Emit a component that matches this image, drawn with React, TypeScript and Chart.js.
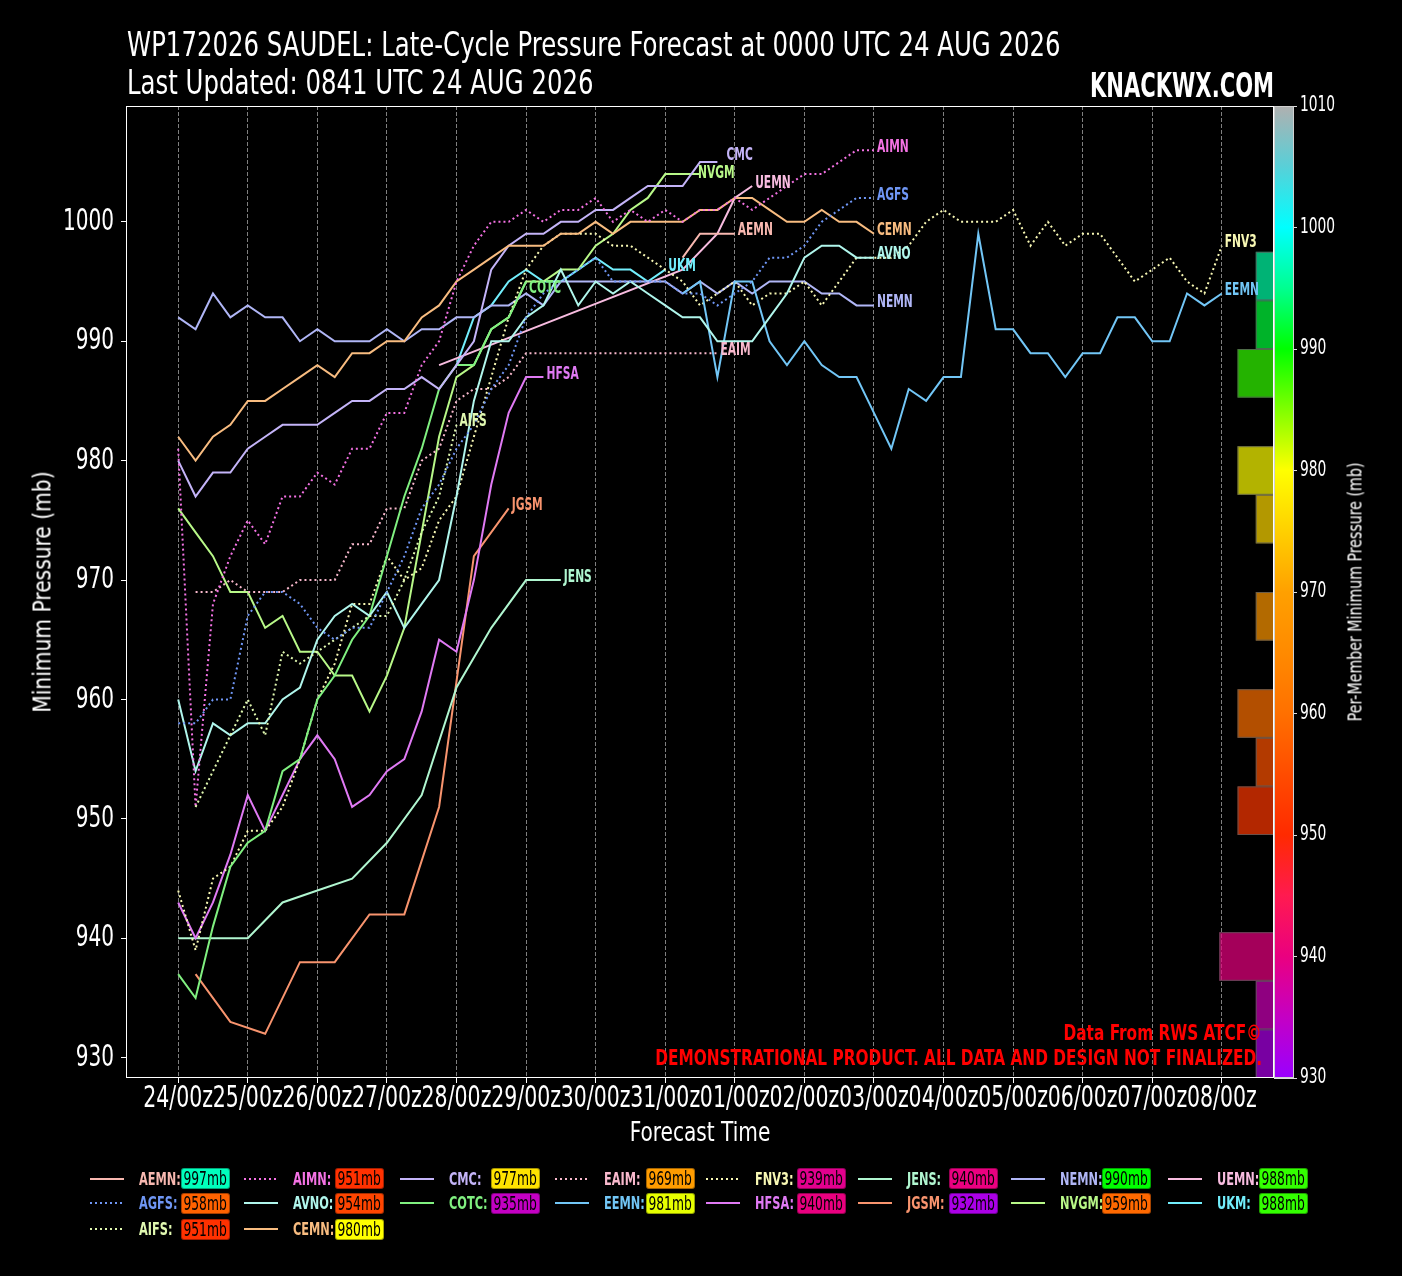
import React, { useEffect, useRef } from 'react';
import { Chart, registerables } from 'chart.js';

Chart.register(...registerables);

const FONT = "'Liberation Sans Narrow','DejaVu Sans Condensed','Noto Sans',sans-serif";

function sixHourly(start: number, end: number): number[] {
  const out: number[] = [];
  for (let h = start; h <= end; h += 6) out.push(h);
  return out;
}

// ---------------- data (forecast hour since 24/00z, minimum pressure mb) ----------------
const AEMN_H = [174, 180, 186, 192];
const AEMN_P = [997, 999, 999, 999];
const AGFS_H = sixHourly(0, 240);
const AGFS_P = [958, 958, 960, 960, 967, 969, 969, 968, 966, 965, 966, 966, 969, 972, 976, 978, 981,
  983, 986, 988, 992, 994, 995, 996, 997, 995, 995, 995, 995, 994, 994, 993, 994, 995,
  997, 997, 998, 1000, 1001, 1002, 1002];
const AIFS_H = sixHourly(6, 96);
const AIFS_P = [951, 954, 957, 960, 957, 964, 963, 964, 965, 966, 967, 967, 970, 974, 977, 983];
const AIMN_H = sixHourly(0, 240);
const AIMN_P = [981, 951, 968, 972, 975, 973, 977, 977, 979, 978, 981, 981, 984, 984, 988, 990, 995,
  998, 1000, 1000, 1001, 1000, 1001, 1001, 1002, 1000, 1001, 1000, 1001, 1000, 1001, 1001, 1002, 1001,
  1002, 1003, 1004, 1004, 1005, 1006, 1006];
const AVNO_H = sixHourly(0, 240);
const AVNO_P = [960, 954, 958, 957, 958, 958, 960, 961, 965, 967, 968, 967, 969, 966, 968, 970, 977,
  985, 990, 990, 992, 993, 996, 993, 995, 994, 995, 994, 993, 992, 992, 990, 990, 990,
  992, 994, 997, 998, 998, 997, 997];
const CEMN_H = sixHourly(0, 240);
const CEMN_P = [982, 980, 982, 983, 985, 985, 986, 987, 988, 987, 989, 989, 990, 990, 992, 993, 995,
  996, 997, 998, 998, 998, 999, 999, 1000, 999, 1000, 1000, 1000, 1000, 1001, 1001, 1002, 1002,
  1001, 1000, 1000, 1001, 1000, 1000, 999];
const CMC_H = sixHourly(0, 186);
const CMC_P = [980, 977, 979, 979, 981, 982, 983, 983, 983, 984, 985, 985, 986, 986, 987, 986, 988,
  990, 996, 998, 999, 999, 1000, 1000, 1001, 1001, 1002, 1003, 1003, 1003, 1005, 1005];
const COTC_H = sixHourly(0, 120);
const COTC_P = [937, 935, 941, 946, 948, 949, 954, 955, 960, 962, 965, 967, 972, 977, 981, 986, 988,
  988, 991, 992, 995];
const EAIM_H = sixHourly(6, 186);
const EAIM_P = [969, 969, 970, 969, 969, 969, 970, 970, 970, 973, 973, 976, 976, 980, 981, 985,
  986, 986, 987, 989, 989, 989, 989, 989, 989, 989, 989, 989, 989, 989, 989];
const EEMN_H = sixHourly(174, 360);
const EEMN_P = [994, 995, 987, 995, 995, 990, 988, 990, 988, 987, 987, 984, 981, 986, 985, 987,
  987, 999, 991, 991, 989, 989, 987, 989, 989, 992, 992, 990, 990, 994, 993, 994];
const FNV3_H = sixHourly(0, 360);
const FNV3_P = [944, 939, 945, 946, 949, 949, 951, 955, 960, 963, 968, 968, 972, 970, 971, 975, 977,
  982, 987, 992, 996, 998, 999, 999, 999, 998, 998, 997, 996, 995, 993, 994, 995, 993,
  994, 994, 995, 993, 995, 997, 997, 997, 998, 1000, 1001, 1000, 1000, 1000, 1001, 998, 1000,
  998, 999, 999, 997, 995, 996, 997, 995, 994, 998];
const HFSA_H = sixHourly(0, 126);
const HFSA_P = [943, 940, 943, 947, 952, 949, 952, 955, 957, 955, 951, 952, 954, 955, 959, 965, 964,
  970, 978, 984, 987, 987];
const JENS_H = [0, 12, 24, 36, 48, 60, 72, 84, 96, 108, 120, 132];
const JENS_P = [940, 940, 940, 943, 944, 945, 948, 952, 961, 966, 970, 970];
const JGSM_H = [6, 18, 30, 42, 54, 66, 78, 90, 102, 114];
const JGSM_P = [937, 933, 932, 938, 938, 942, 942, 951, 972, 976];
const NEMN_H = sixHourly(0, 240);
const NEMN_P = [992, 991, 994, 992, 993, 992, 992, 990, 991, 990, 990, 990, 991, 990, 991, 991, 992,
  992, 993, 993, 994, 993, 995, 995, 995, 995, 995, 995, 995, 994, 995, 994, 995, 994,
  995, 995, 995, 994, 994, 993, 993];
const NVGM_H = sixHourly(0, 180);
const NVGM_P = [976, 974, 972, 969, 969, 966, 967, 964, 964, 962, 962, 959, 962, 966, 974, 982, 987,
  988, 991, 992, 995, 995, 996, 996, 998, 999, 1001, 1002, 1004, 1004, 1004];
const UEMN_H = [90, 174, 186, 192, 198];
const UEMN_P = [988, 996, 999, 1002, 1003];
const UKM_H = sixHourly(96, 168);
const UKM_P = [988, 992, 993, 995, 996, 995, 995, 996, 997, 996, 996, 995, 996];

const X_TICK_HOURS = [0, 24, 48, 72, 96, 120, 144, 168, 192, 216, 240, 264, 288, 312, 336, 360];
const X_TICK_LABELS = ['24/00z', '25/00z', '26/00z', '27/00z', '28/00z', '29/00z', '30/00z', '31/00z',
  '01/00z', '02/00z', '03/00z', '04/00z', '05/00z', '06/00z', '07/00z', '08/00z'];
const Y_TICKS = [930, 940, 950, 960, 970, 980, 990, 1000];
const CB_TICKS = [930, 940, 950, 960, 970, 980, 990, 1000, 1010];

// colour map for per-member minimum pressure
const CMAP_P = [930, 935, 940, 945, 950, 955, 960, 965, 970, 975, 980, 985, 990, 995, 1000, 1005, 1010];
const CMAP_C = ['#9a00ff', '#c400c4', '#ea0080', '#ff1a50', '#ff2a00', '#ff4c00', '#ff7000', '#ff8a00',
  '#ffa000', '#ffd000', '#ffff00', '#80ff00', '#00ff00', '#00ff90', '#00ffff', '#58d0d8', '#b0b0b0'];
const HIST_START = 930;
const HIST_END = 1010;
const HIST_BIN = 4;

// ---------------- styles ----------------
const STYLE: Record<string, { color: string; dotted: boolean }> = {
  AEMN: { color: '#f8b8b0', dotted: false },
  AGFS: { color: '#6f96f4', dotted: true },
  AIFS: { color: '#e0f8b0', dotted: true },
  AIMN: { color: '#f472e4', dotted: true },
  AVNO: { color: '#b0f6ec', dotted: false },
  CEMN: { color: '#f8bc80', dotted: false },
  CMC: { color: '#c4b4f8', dotted: false },
  COTC: { color: '#80f080', dotted: false },
  EAIM: { color: '#f8b8cc', dotted: true },
  EEMN: { color: '#72c6f6', dotted: false },
  FNV3: { color: '#f8f8b4', dotted: true },
  HFSA: { color: '#e07af4', dotted: false },
  JENS: { color: '#b0f6d0', dotted: false },
  JGSM: { color: '#f8946e', dotted: false },
  NEMN: { color: '#b0b6f6', dotted: false },
  NVGM: { color: '#b8f888', dotted: false },
  UEMN: { color: '#f8bce0', dotted: false },
  UKM: { color: '#72eefc', dotted: false },
};
const LABEL_NUDGE: Record<string, [number, number]> = { CMC: [6, -4], NVGM: [-5, 2], COTC: [0, 10] };

const MODELS = [
  { name: 'AEMN', h: AEMN_H, p: AEMN_P },
  { name: 'AGFS', h: AGFS_H, p: AGFS_P },
  { name: 'AIFS', h: AIFS_H, p: AIFS_P },
  { name: 'AIMN', h: AIMN_H, p: AIMN_P },
  { name: 'AVNO', h: AVNO_H, p: AVNO_P },
  { name: 'CEMN', h: CEMN_H, p: CEMN_P },
  { name: 'CMC', h: CMC_H, p: CMC_P },
  { name: 'COTC', h: COTC_H, p: COTC_P },
  { name: 'EAIM', h: EAIM_H, p: EAIM_P },
  { name: 'EEMN', h: EEMN_H, p: EEMN_P },
  { name: 'FNV3', h: FNV3_H, p: FNV3_P },
  { name: 'HFSA', h: HFSA_H, p: HFSA_P },
  { name: 'JENS', h: JENS_H, p: JENS_P },
  { name: 'JGSM', h: JGSM_H, p: JGSM_P },
  { name: 'NEMN', h: NEMN_H, p: NEMN_P },
  { name: 'NVGM', h: NVGM_H, p: NVGM_P },
  { name: 'UEMN', h: UEMN_H, p: UEMN_P },
  { name: 'UKM', h: UKM_H, p: UKM_P },
];

function hexToRgb(h: string): number[] {
  const v = parseInt(h.slice(1), 16);
  return [(v >> 16) & 255, (v >> 8) & 255, v & 255];
}
function cmap(p: number, alpha = 1): string {
  let i = 0;
  while (i < CMAP_P.length - 2 && p > CMAP_P[i + 1]) i++;
  const t = Math.max(0, Math.min(1, (p - CMAP_P[i]) / (CMAP_P[i + 1] - CMAP_P[i])));
  const a = hexToRgb(CMAP_C[i]);
  const b = hexToRgb(CMAP_C[i + 1]);
  const c = a.map((v, k) => Math.round(v + (b[k] - v) * t));
  return `rgba(${c[0]},${c[1]},${c[2]},${alpha})`;
}

const MINIMA = MODELS.map((m) => Math.min(...m.p));
const HIST_COUNTS: number[] = [];
for (let lo = HIST_START; lo < HIST_END; lo += HIST_BIN) HIST_COUNTS.push(0);
MINIMA.forEach((v) => {
  const idx = Math.floor((v - HIST_START) / HIST_BIN);
  if (idx >= 0 && idx < HIST_COUNTS.length) HIST_COUNTS[idx] += 1;
});

// draws horizontally condensed canvas text (narrow display face look-alike)
function narrowText(ctx: any, text: string, x: number, y: number, font: string, color: string,
  sx: number, align: string) {
  ctx.save();
  ctx.translate(x, y);
  ctx.scale(sx, 1);
  ctx.font = font;
  ctx.fillStyle = color;
  ctx.textAlign = align;
  ctx.textBaseline = 'middle';
  ctx.fillText(text, 0, 0);
  ctx.restore();
}

const decorPlugin = {
  id: 'decor',
  afterDatasetsDraw(chart: any) {
    const { ctx, chartArea, scales } = chart;
    const { x, y, xh, yh } = scales;
    ctx.save();
    ctx.beginPath();
    ctx.rect(chartArea.left, chartArea.top, chartArea.right - chartArea.left, chartArea.bottom - chartArea.top);
    ctx.clip();
    HIST_COUNTS.forEach((c, i) => {
      if (!c) return;
      const lo = HIST_START + i * HIST_BIN;
      const top = yh.getPixelForValue(lo + HIST_BIN);
      const bot = yh.getPixelForValue(lo);
      const left = xh.getPixelForValue(c);
      const right = xh.getPixelForValue(0);
      ctx.fillStyle = cmap(lo + HIST_BIN / 2, 0.7);
      ctx.fillRect(left, top, right - left, bot - top);
      ctx.strokeStyle = 'rgba(90,90,90,0.8)';
      ctx.lineWidth = 1;
      ctx.strokeRect(left + 0.5, top + 0.5, right - left - 1, bot - top - 1);
    });
    ctx.restore();

    MODELS.forEach((m) => {
      const n = m.h.length - 1;
      const px = x.getPixelForValue(m.h[n]);
      const py = y.getPixelForValue(m.p[n]);
      const nd = LABEL_NUDGE[m.name] || [0, 0];
      narrowText(ctx, m.name, px + 3 + nd[0], py - 3 + nd[1], `bold 18px ${FONT}`, STYLE[m.name].color, 0.66, 'left');
    });

    ctx.save();
    ctx.strokeStyle = '#ffffff';
    ctx.lineWidth = 1;
    ctx.strokeRect(chartArea.left + 0.5, chartArea.top + 0.5, chartArea.right - chartArea.left - 1,
      chartArea.bottom - chartArea.top - 1);
    ctx.restore();
  },
  afterDraw(chart: any) {
    const { ctx, chartArea, scales } = chart;
    const { x, y, cb } = scales;
    const x0 = chartArea.right + 1;
    const w = 18;
    const yT = cb.getPixelForValue(HIST_END);
    const yB = cb.getPixelForValue(HIST_START);
    const g = ctx.createLinearGradient(0, yB, 0, yT);
    CMAP_P.forEach((p, i) => g.addColorStop((p - HIST_START) / (HIST_END - HIST_START), CMAP_C[i]));
    ctx.save();
    ctx.fillStyle = g;
    ctx.fillRect(x0, yT, w, yB - yT);
    ctx.strokeStyle = '#d0d0d0';
    ctx.lineWidth = 1;
    ctx.strokeRect(x0 - 0.5, yT + 0.5, w + 1, yB - yT - 1);
    ctx.restore();

    // tick labels, placed through the scales
    Y_TICKS.forEach((v) => {
      narrowText(ctx, String(v), chartArea.left - 12, y.getPixelForValue(v), `31px ${FONT}`, '#ffffff', 0.72, 'right');
    });
    X_TICK_HOURS.forEach((h, i) => {
      narrowText(ctx, X_TICK_LABELS[i], x.getPixelForValue(h), chartArea.bottom + 21, `30px ${FONT}`, '#ffffff', 0.76, 'center');
    });
    CB_TICKS.forEach((v) => {
      narrowText(ctx, String(v), x0 + w + 7, cb.getPixelForValue(v), `21px ${FONT}`, '#ffffff', 0.73, 'left');
    });
  },
};

export default function App() {
  const ref = useRef<HTMLCanvasElement | null>(null);

  useEffect(() => {
    const canvas = ref.current;
    if (!canvas) return;
    Chart.defaults.font.family = FONT;
    Chart.defaults.color = '#ffffff';
    const datasets = MODELS.map((m) => ({
      label: m.name,
      data: m.h.map((h, i) => ({ x: h, y: m.p[i] })),
      borderColor: STYLE[m.name].color,
      backgroundColor: STYLE[m.name].color,
      borderWidth: 2,
      borderDash: STYLE[m.name].dotted ? [2, 3] : [],
      pointRadius: 0,
      tension: 0,
      fill: false,
      xAxisID: 'x',
      yAxisID: 'y',
    }));
    const chart = new Chart(canvas, {
      type: 'line',
      data: { datasets },
      options: {
        responsive: false,
        animation: false,
        events: [],
        layout: { padding: { top: 106, bottom: 116, left: 0, right: 0 } },
        plugins: { legend: { display: false }, tooltip: { enabled: false }, title: { display: false } },
        scales: {
          x: {
            type: 'linear',
            min: -18,
            max: 378,
            afterBuildTicks: (s: any) => { s.ticks = X_TICK_HOURS.map((v) => ({ value: v })); },
            afterFit: (s: any) => { s.height = 82; },
            ticks: { display: false, autoSkip: false, maxRotation: 0 },
            grid: { color: 'rgba(170,170,170,0.75)', lineWidth: 1, tickLength: 5, tickColor: '#ffffff', drawTicks: true },
            border: { display: false, dash: [4, 2] },
          },
          y: {
            type: 'linear',
            position: 'left',
            min: 928.3,
            max: 1009.7,
            afterBuildTicks: (s: any) => { s.ticks = Y_TICKS.map((v) => ({ value: v })); },
            afterFit: (s: any) => { s.width = 126; },
            ticks: { display: false },
            grid: { drawOnChartArea: false, tickLength: 5, tickColor: '#ffffff' },
            border: { display: false },
          },
          cb: {
            type: 'linear',
            axis: 'y',
            position: 'right',
            min: HIST_START,
            max: HIST_END,
            afterBuildTicks: (s: any) => { s.ticks = CB_TICKS.map((v) => ({ value: v })); },
            afterFit: (s: any) => { s.width = 128; },
            ticks: { display: false },
            grid: { drawOnChartArea: false, tickLength: 23, tickColor: '#dddddd' },
            border: { display: false },
          },
          yh: { type: 'linear', display: false, min: HIST_START, max: HIST_END },
          xh: { type: 'linear', display: false, min: 0, max: 63, reverse: true },
        },
      } as any,
      plugins: [decorPlugin],
    });
    return () => chart.destroy();
  }, []);

  const LEGEND_COLS = [90, 244, 400, 555, 706, 858, 1011, 1168];
  const LEGEND_ROWS = [1178.5, 1203.3, 1229];
  const ncol = LEGEND_COLS.length;
  const base = Math.floor(MODELS.length / ncol);
  const extra = MODELS.length % ncol;
  const placed: { m: typeof MODELS[number]; col: number; row: number; k: number }[] = [];
  let k = 0;
  for (let c = 0; c < ncol; c++) {
    const size = base + (c < extra ? 1 : 0);
    for (let r = 0; r < size; r++) {
      placed.push({ m: MODELS[k], col: c, row: r, k });
      k++;
    }
  }

  const abs: React.CSSProperties = { position: 'absolute', whiteSpace: 'nowrap', lineHeight: 1 };
  const leftText = (sx: number): React.CSSProperties => ({ transform: `translateY(-50%) scaleX(${sx})`, transformOrigin: 'left center' });
  const rightText = (sx: number): React.CSSProperties => ({ transform: `translateY(-50%) scaleX(${sx})`, transformOrigin: 'right center' });

  return (
    <div style={{ position: 'absolute', left: 0, top: 0, width: 1402, height: 1276, background: '#000', overflow: 'hidden', fontFamily: FONT }}>
      <canvas ref={ref} width={1402} height={1276} style={{ position: 'absolute', left: 0, top: 0, display: 'block' }} />
      <div style={{ ...abs, ...leftText(0.81), left: 127, top: 44.5, color: '#fff', fontSize: 33.5 }}>
        WP172026 SAUDEL: Late-Cycle Pressure Forecast at 0000 UTC 24 AUG 2026
      </div>
      <div style={{ ...abs, ...leftText(0.81), left: 127, top: 82.5, color: '#fff', fontSize: 33.5 }}>
        Last Updated: 0841 UTC 24 AUG 2026
      </div>
      <div style={{ ...abs, ...rightText(0.7), right: 128, top: 86, color: '#fff', fontSize: 33.5, fontWeight: 'bold' }}>
        KNACKWX.COM
      </div>
      <div style={{ ...abs, ...rightText(0.775), right: 140, top: 1033, color: '#ff0000', fontSize: 22, fontWeight: 'bold' }}>
        Data From RWS ATCF©
      </div>
      <div style={{ ...abs, ...rightText(0.775), right: 140, top: 1058, color: '#ff0000', fontSize: 22, fontWeight: 'bold' }}>
        DEMONSTRATIONAL PRODUCT. ALL DATA AND DESIGN NOT FINALIZED.
      </div>
      <div style={{ ...abs, left: 42, top: 592, transform: 'translate(-50%,-50%) rotate(-90deg) scaleX(0.9)', color: '#fff', fontSize: 25 }}>
        Minimum Pressure (mb)
      </div>
      <div style={{ ...abs, left: 700, top: 1132, transform: 'translate(-50%,-50%) scaleX(0.86)', color: '#fff', fontSize: 26 }}>
        Forecast Time
      </div>
      <div style={{ ...abs, left: 1355, top: 592, transform: 'translate(-50%,-50%) rotate(-90deg) scaleX(0.83)', color: '#fff', fontSize: 19 }}>
        Per-Member Minimum Pressure (mb)
      </div>
      {placed.map(({ m, col, row, k: idx }) => {
        const cx = LEGEND_COLS[col];
        const cy = LEGEND_ROWS[row];
        const st = STYLE[m.name];
        const mn = MINIMA[idx];
        return (
          <React.Fragment key={m.name}>
            <div style={{ position: 'absolute', left: cx, top: cy - 1, width: 34, height: 2,
              background: st.dotted ? `repeating-linear-gradient(to right, ${st.color} 0px, ${st.color} 2px, transparent 2px, transparent 5px)` : st.color }} />
            <div style={{ ...abs, ...leftText(0.7), left: cx + 48.5, top: cy, color: st.color, fontSize: 18, fontWeight: 'bold' }}>
              {m.name}:
            </div>
            <div style={{ position: 'absolute', left: cx + 91, top: cy - 10.5, width: 49, height: 21, background: cmap(mn),
              borderRadius: 3, border: '1px solid rgba(0,0,0,0.35)', boxSizing: 'border-box',
              display: 'flex', alignItems: 'center', justifyContent: 'center', overflow: 'visible' }}>
              <span style={{ display: 'inline-block', whiteSpace: 'nowrap', color: '#000', fontSize: 19, lineHeight: 1, transform: 'scaleX(0.72)' }}>
                {mn}mb
              </span>
            </div>
          </React.Fragment>
        );
      })}
    </div>
  );
}
